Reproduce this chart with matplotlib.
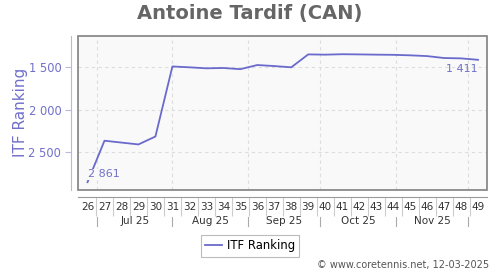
import datetime as dt
import numpy as np
import matplotlib
matplotlib.use("Agg")
import matplotlib.pyplot as plt
import matplotlib.transforms as mtransforms
from matplotlib.patches import Rectangle

weeks = list(range(26, 50))
ranks = [2861, 2370, 2392, 2414, 2320, 1490, 1500, 1512, 1508, 1522, 1473, 1485,
         1500, 1347, 1350, 1345, 1347, 1350, 1352, 1358, 1367, 1390, 1394, 1411]
months = ["Jul 25", "Aug 25", "Sep 25", "Oct 25", "Nov 25"]
month_starts = [dt.date(2025, m, 1) for m in range(7, 13)]
week26_date = dt.date(2025, 6, 27)

line_col = "#6a6acc"
lab_col = "#7070cc"
bg = "#f9f9f9"

def sep(v):
    return f"{int(v):,}".replace(",", " ")

def date_to_x(d):
    return 26 + (d - week26_date).days / 7

fig = plt.figure(figsize=(5, 2.7), dpi=100)
ax = fig.add_axes([78/500, 1-190/270, 409/500, 154.5/270])
ax.set_facecolor(bg)

ax.plot(weeks, ranks, color=line_col, lw=1.3, label="ITF Ranking", zorder=3)
ax.set_xlim(25.44, 49.53)
ax.set_ylim(2954, 1123)

# grid
ax.set_yticks([1500, 2000, 2500])
ax.yaxis.grid(True, color="#dddddd", ls=(0, (3, 3)), lw=0.8)
mx = [date_to_x(d) for d in month_starts]
for x in mx:
    ax.axvline(x, color="#dddddd", ls=(0, (3, 3)), lw=0.8, zorder=1)

# frame + offset axes
for s in ax.spines.values():
    s.set_visible(False)
ax.add_patch(Rectangle((0, 0), 1, 1, transform=ax.transAxes, fill=False,
                       ec="#808080", lw=1.2, clip_on=False, zorder=4))
ax.spines["left"].set_visible(True)
ax.spines["left"].set_position(("outward", 5))
ax.spines["left"].set_color("#b8b8e0")
ax.spines["bottom"].set_visible(True)
ax.spines["bottom"].set_position(("outward", 5))
ax.spines["bottom"].set_color("#999999")

ax.yaxis.set_major_formatter(matplotlib.ticker.FuncFormatter(lambda v, p: sep(v)))
ax.tick_params(axis="y", colors="#b8b8e0", labelcolor=lab_col, labelsize=8.3,
               length=4, pad=3)
ax.set_ylabel("ITF Ranking", color=lab_col, fontsize=11, labelpad=0)

ax.set_xticks(weeks)
ax.set_xticklabels([str(w) for w in weeks], fontsize=7.5, color="#333333")
ax.set_xticks([w + 0.5 for w in weeks[:-1]], minor=True)
ax.tick_params(axis="x", which="major", length=0, pad=4)
ax.tick_params(axis="x", which="minor", length=14, color="#cccccc", width=0.8)

trans = mtransforms.blended_transform_factory(ax.transData, ax.transAxes)
for x in mx:
    ax.plot([x, x], [-0.175, -0.23], transform=trans, color="#aaaaaa", lw=0.8,
            clip_on=False)
for i, m in enumerate(months):
    ax.text((mx[i] + mx[i + 1]) / 2, -0.2, m, transform=trans, ha="center",
            va="center", fontsize=7.5, color="#333333")

# end labels
ax.annotate(sep(ranks[0]), (weeks[0], ranks[0]), xytext=(0, 2),
            textcoords="offset points", ha="left", va="bottom", fontsize=8,
            color=lab_col, zorder=5,
            bbox=dict(fc=bg, ec="none", pad=0.5))
ax.annotate(sep(ranks[-1]), (weeks[-1], ranks[-1]), xytext=(0, -3),
            textcoords="offset points", ha="right", va="top", fontsize=8,
            color=lab_col, zorder=5)

fig.text(0.5, 1-14/270, "Antoine Tardif (CAN)", ha="center", va="center",
         fontsize=14, fontweight="bold", color="#666666")

leg = fig.legend(loc="center", bbox_to_anchor=(0.5, 1-246/270), fontsize=8.4,
                 fancybox=False, edgecolor="#aaaaaa", handlelength=1.5,
                 borderpad=0.35, handletextpad=0.4)
leg.get_frame().set_linewidth(0.8)

fig.text(0.978, 1-265/270, "\u00a9 www.coretennis.net, 12-03-2025", ha="right",
         va="center", fontsize=7, color="#555555")

fig.savefig("out.png", dpi=100)
